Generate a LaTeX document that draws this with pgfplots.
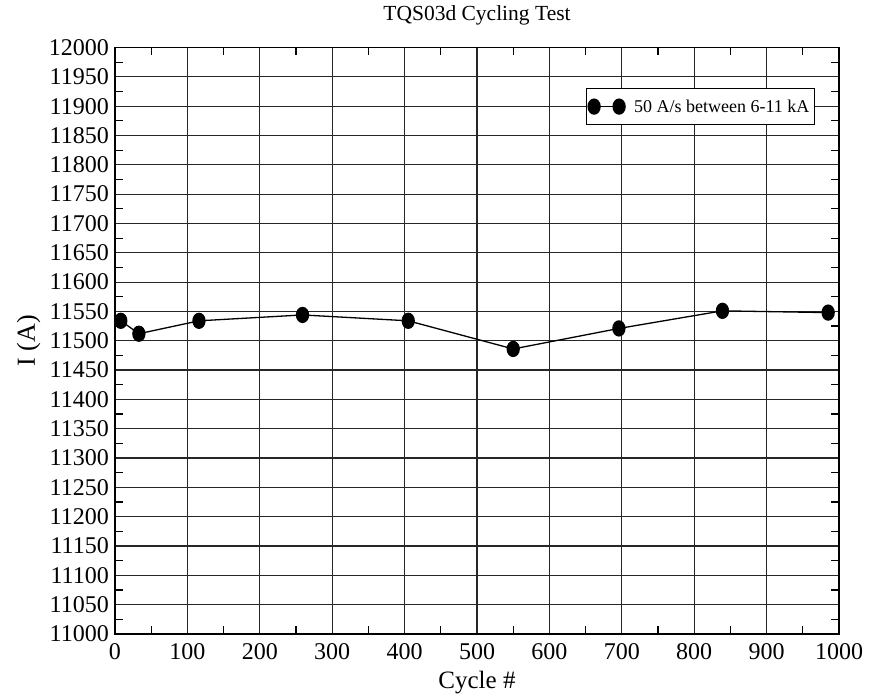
\documentclass[border=0pt]{standalone}
\usepackage{fontspec}
\setmainfont{Liberation Serif}
\usepackage{pgfplots}
\pgfplotsset{compat=1.18}
\begin{document}
\begin{tikzpicture}
\begin{axis}[
  at={(115pt,63pt)}, anchor=south west,
  scale only axis, width=724pt, height=586.5pt,
  xmin=0, xmax=1000, ymin=11000, ymax=12000,
  xtick distance=100, ytick distance=50,
  scaled y ticks=false, scaled x ticks=false,
  minor x tick num=1, minor y tick num=1,
  grid=major,
  major grid style={line width=1.2pt, draw=black!85},
  axis line style={line width=1.5pt},
  tick style={line width=1.2pt, black},
  major tick length=0pt, minor tick length=8pt,
  tick align=inside,
  /pgf/number format/assume math mode=true,
  /pgf/number format/fixed,
  /pgf/number format/1000 sep={},
  tick label style={font=\fontsize{24}{26}\selectfont},
  x tick label style={anchor=base, yshift=-25pt},
  y tick label style={anchor=east, inner sep=0pt, xshift=-6pt},
  title={TQS03d Cycling Test},
  title style={font=\fontsize{21.5}{24}\selectfont, at={(0.5,1)}, anchor=base, yshift=20.8pt},
  xlabel={Cycle \#},
  xlabel style={font=\fontsize{25}{27}\selectfont, at={(0.5,0)}, anchor=base, yshift=-54pt},
  ylabel={I (A)},
  ylabel style={font=\fontsize{26}{28}\selectfont, at={(-0.1105,0.5)}, anchor=base},
  legend style={at={(1,1)}, anchor=north east, xshift=-24pt, yshift=-40.5pt,
    draw=black, line width=1.2pt, fill=white, inner xsep=2pt, inner ysep=8pt,
    font=\fontsize{18}{20}\selectfont, nodes={inner xsep=3pt, inner ysep=3pt},
    cells={anchor=west}},
  legend image code/.code={\draw[mark=*, #1] plot coordinates {(0pt,0pt) (25pt,0pt)};},
]
\addplot[black, line width=1.3pt, mark=*, mark size=6pt,
  mark options={yscale=1.25, solid, fill=black}] coordinates {
  (8,11534) (33,11512) (116,11534) (259,11544) (405,11534)
  (550,11486) (696,11521) (839,11551) (985,11548)
};
\addlegendentry{\hspace{6pt}50 A/s between 6-11 kA}
\end{axis}
\pgfresetboundingbox
\path[use as bounding box] (0,0) rectangle (880pt,697pt);
\end{tikzpicture}
\end{document}
